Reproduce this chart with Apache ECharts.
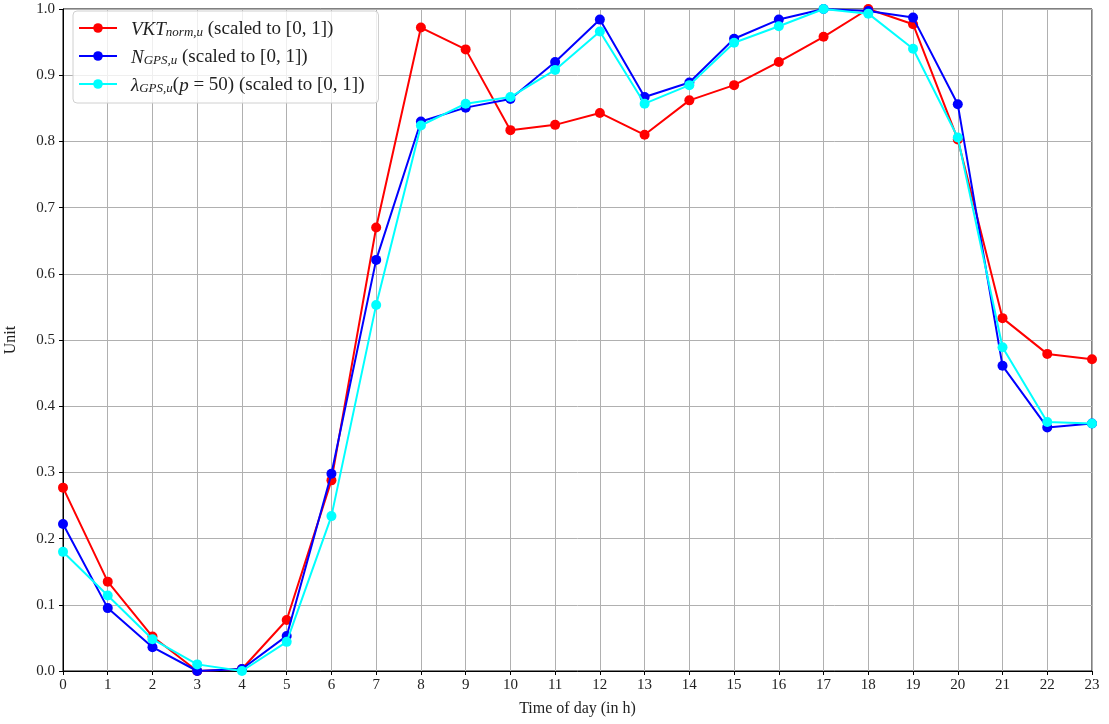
<!DOCTYPE html>
<html>
<head>
<meta charset="utf-8">
<script src="https://cdn.jsdelivr.net/npm/echarts@6/dist/echarts.min.js"></script>
<style>html,body{margin:0;padding:0;background:#fff}#c{width:1109px;height:724px}</style>
</head>
<body>
<div id="c"></div>
<script>
const hours = [0,1,2,3,4,5,6,7,8,9,10,11,12,13,14,15,16,17,18,19,20,21,22,23];
const vkt = [0.277,0.135,0.052,0.0,0.003,0.077,0.288,0.670,0.972,0.939,0.817,0.825,0.843,0.810,0.862,0.885,0.920,0.958,1.0,0.977,0.803,0.533,0.479,0.471];
const nGps = [0.222,0.095,0.036,0.0,0.003,0.053,0.298,0.621,0.830,0.851,0.864,0.920,0.984,0.867,0.889,0.955,0.984,1.0,0.997,0.987,0.856,0.461,0.368,0.374];
const lambdaGps = [0.180,0.114,0.048,0.010,0.0,0.044,0.234,0.553,0.824,0.857,0.867,0.908,0.966,0.857,0.885,0.949,0.974,1.0,0.993,0.940,0.806,0.489,0.376,0.374];
const seriesNames = ['VKT', 'NGPS', 'LGPS'];
const FONT = 'Liberation Serif';
const chart = echarts.init(document.getElementById('c'));
function pairs(arr){ return hours.map((h,i)=>[h, arr[i]]); }
chart.setOption({
  animation: false,
  textStyle: { fontFamily: FONT, color: '#222' },
  grid: { left: 63, right: 17, top: 9, bottom: 53, show: true, borderColor: '#000', borderWidth: 1, containLabel: false, outerBoundsMode: 'none' },
  legend: {
    left: 73, top: 11, orient: 'vertical',
    itemWidth: 38, itemHeight: 12, itemGap: 8,
    padding: [8, 14, 8, 5],
    backgroundColor: 'rgba(255,255,255,0.8)',
    borderColor: '#d0d0d0', borderWidth: 1, borderRadius: 4,
    data: seriesNames,
    formatter: function(n){
      if (n === 'VKT') return '{g|}{m|VKT}{s|norm,u}{t| (scaled to [0, 1])}';
      if (n === 'NGPS') return '{g|}{m|N}{s|GPS,u}{t| (scaled to [0, 1])}';
      return '{g|}{m|λ}{s|GPS,u}{t|(}{m|p}{t| = 50) (scaled to [0, 1])}';
    },
    textStyle: {
      fontFamily: FONT, fontSize: 18, color: '#222',
      rich: {
        g: { width: 9, lineHeight: 22 },
        m: { fontFamily: FONT, fontStyle: 'italic', fontSize: 19, color: '#222', verticalAlign: 'bottom', lineHeight: 22 },
        s: { fontFamily: FONT, fontStyle: 'italic', fontSize: 13, color: '#222', verticalAlign: 'bottom', lineHeight: 22, padding: [6,0,0,0] },
        t: { fontFamily: FONT, fontSize: 19, color: '#222', verticalAlign: 'bottom', lineHeight: 22 }
      }
    }
  },
  xAxis: {
    type: 'value', min: 0, max: 23, interval: 1,
    name: 'Time of day (in h)', nameLocation: 'middle', nameGap: 30,
    nameTextStyle: { fontFamily: FONT, fontSize: 16, color: '#222' },
    axisLine: { show: true, lineStyle: { color: '#000', width: 1 } },
    axisTick: { show: true, length: 4, lineStyle: { color: '#000' } },
    axisLabel: { fontFamily: FONT, fontSize: 15, color: '#222', margin: 7 },
    splitLine: { show: true, lineStyle: { color: '#b0b0b0', width: 1 } }
  },
  yAxis: {
    type: 'value', min: 0, max: 1, interval: 0.1,
    name: 'Unit', nameLocation: 'middle', nameGap: 44, nameRotate: 90,
    nameTextStyle: { fontFamily: FONT, fontSize: 16, color: '#222' },
    axisLine: { show: true, lineStyle: { color: '#000', width: 1 } },
    axisTick: { show: true, length: 4, lineStyle: { color: '#000' } },
    axisLabel: { fontFamily: FONT, fontSize: 15, color: '#222', margin: 8, formatter: v => v.toFixed(1) },
    splitLine: { show: true, lineStyle: { color: '#b0b0b0', width: 1 } }
  },
  series: [
    { name: 'VKT', type: 'line', data: pairs(vkt), color: '#ff0000', symbol: 'circle', symbolSize: 10, lineStyle: { width: 2 }, z: 2 },
    { name: 'NGPS', type: 'line', data: pairs(nGps), color: '#0000ff', symbol: 'circle', symbolSize: 10, lineStyle: { width: 2 }, z: 3 },
    { name: 'LGPS', type: 'line', data: pairs(lambdaGps), color: '#00ffff', symbol: 'circle', symbolSize: 10, lineStyle: { width: 2 }, z: 4 }
  ]
});
</script>
</body>
</html>
